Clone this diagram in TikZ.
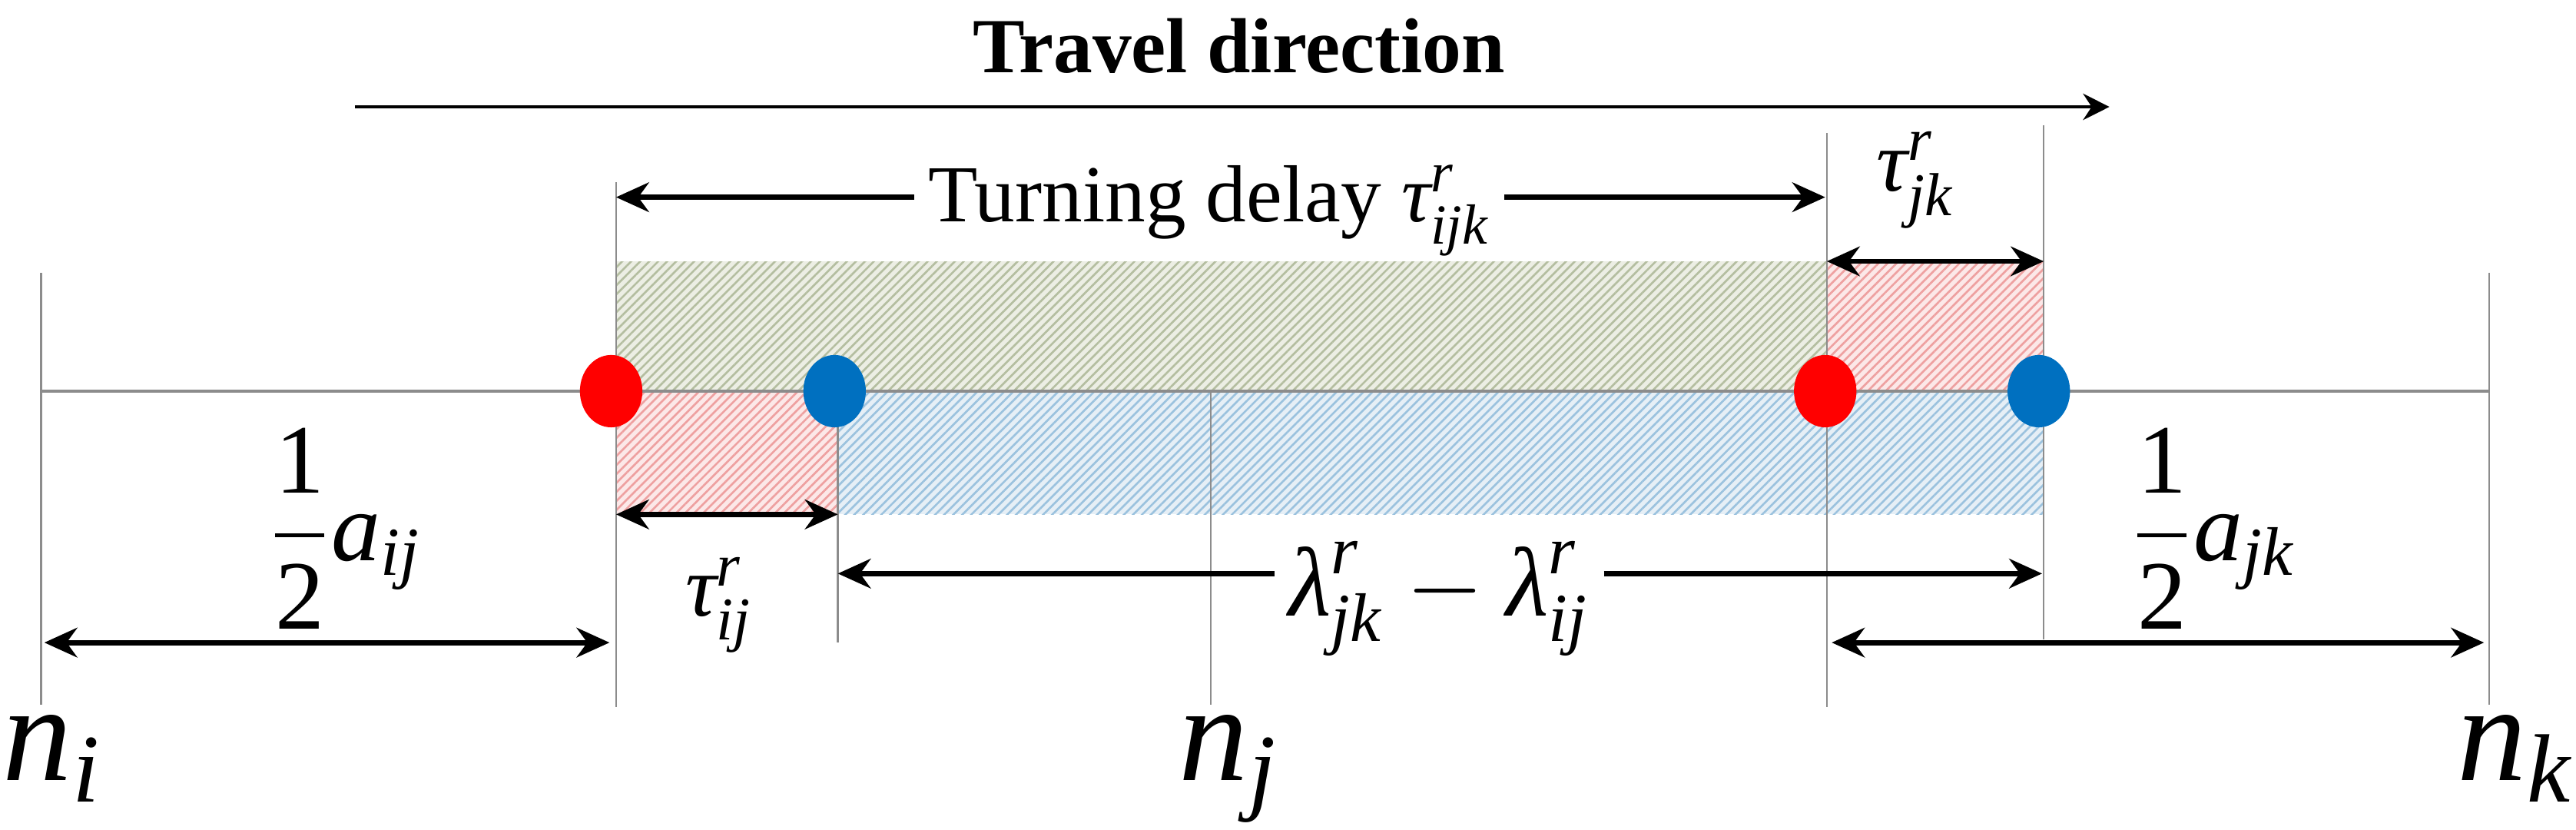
\documentclass[tikz,border=0pt]{standalone}
\usepackage{amsmath}
\usepackage{fontspec}
\setmainfont{Liberation Serif}
\usetikzlibrary{arrows.meta,shapes.geometric,patterns.meta}

\definecolor{dotred}{RGB}{255,0,0}
\definecolor{dotblue}{RGB}{0,112,192}
\definecolor{guidegray}{RGB}{140,140,140}
\definecolor{greenbg}{RGB}{236,238,228}
\definecolor{greenln}{RGB}{180,190,160}
\definecolor{redbg}{RGB}{252,232,232}
\definecolor{redln}{RGB}{238,160,160}
\definecolor{bluebg}{RGB}{230,239,246}
\definecolor{blueln}{RGB}{155,194,222}

\newcommand{\vv}[1]{\textit{#1}}

\tikzset{
  guide/.style={draw=guidegray,line width=0.3pt},
  road/.style={draw=guidegray,line width=0.6pt},
  hatch/.style 2 args={fill=#1,postaction={pattern={Lines[angle=45,distance=1.1pt,line width=0.35pt]},pattern color=#2}},
  spot/.style={ellipse,minimum width=3.8mm,minimum height=4.4mm,inner sep=0pt,fill=#1},
  onearrow/.style={line width=0.9pt,-{Stealth[length=2mm,width=1.8mm]}},
  twoarrow/.style={line width=0.9pt,{Stealth[length=2mm,width=1.8mm]}-{Stealth[length=2mm,width=1.8mm]}},
  lbl/.style={inner xsep=0.8mm,inner ysep=0pt,anchor=base}
}

\begin{document}
\begin{tikzpicture}[x=0.01cm,y=-0.01cm]
\useasboundingbox (0,0) rectangle (1568,505);

% hatched zones
\fill[hatch={greenbg}{greenln}] (375,159) rectangle (1112,238);
\fill[hatch={redbg}{redln}] (375,238) rectangle (510,313);
\fill[hatch={bluebg}{blueln}] (510,238) rectangle (1244,313);
\fill[hatch={redbg}{redln}] (1112,159) rectangle (1244,238);

% road and guide lines
\draw[road] (25,238) -- (1515,238);
\draw[guide] (25,166) -- (25,429);
\draw[guide] (375,111) -- (375,430);
\draw[guide] (510,238) -- (510,391);
\draw[guide] (737,238) -- (737,429);
\draw[guide] (1112,81) -- (1112,430);
\draw[guide] (1244,76) -- (1244,389);
\draw[guide] (1515,166) -- (1515,429);

% vehicles
\node[spot=dotred] (ri) at (372,238) {};
\node[spot=dotblue] (bi) at (508,238) {};
\node[spot=dotred] (rk) at (1111,238) {};
\node[spot=dotblue] (bk) at (1241,238) {};

% travel direction
\node[lbl] (ttl) at (754,44) {\fontsize{13.5}{16}\selectfont\bfseries Travel direction};
\coordinate (tv0) at (216,65);
\coordinate (tv1) at (1284,65);
\draw[line width=0.6pt,-{Stealth[length=1.6mm,width=1.6mm]}] (tv0) -- (tv1);

% turning delay
\coordinate (td0) at (375,120);
\coordinate (td1) at (1111,120);
\node[lbl] (tdl) at (736,135) {\fontsize{14}{16}\selectfont Turning delay $\vv{τ}^{\vv{r}}_{\vv{ijk}}$};
\draw[onearrow] (tdl.west |- td0) -- (td0);
\draw[onearrow] (tdl.east |- td1) -- (td1);

% tau jk
\coordinate (tk0) at (1112,159);
\coordinate (tk1) at (1244,159);
\draw[twoarrow] (tk0) -- (tk1);
\node[lbl] (tkl) at (1166,116) {\fontsize{15}{17}\selectfont $\vv{τ}^{\vv{r}}_{\vv{jk}}$};

% tau ij
\coordinate (ti0) at (375,313);
\coordinate (ti1) at (510,313);
\draw[twoarrow] (ti0) -- (ti1);
\node[lbl] (til) at (438,375) {\fontsize{15}{17}\selectfont $\vv{τ}^{\vv{r}}_{\vv{ij}}$};

% lambda
\coordinate (la0) at (510,349);
\coordinate (la1) at (1243,349);
\node[lbl] (lal) at (876,375) {\fontsize{17}{19}\selectfont $\vv{λ}^{\vv{r}}_{\vv{jk}}-\vv{λ}^{\vv{r}}_{\vv{ij}}$};
\draw[onearrow] (lal.west |- la0) -- (la0);
\draw[onearrow] (lal.east |- la1) -- (la1);

% half lengths
\coordinate (hi0) at (27,391);
\coordinate (hi1) at (371,391);
\draw[twoarrow] (hi0) -- (hi1);
\node[lbl] (hil) at (210,341) {\fontsize{17}{19}\selectfont $\dfrac{\textrm{1}}{\textrm{2}}\vv{a}_{\vv{ij}}$};
\coordinate (hk0) at (1115,391);
\coordinate (hk1) at (1512,391);
\draw[twoarrow] (hk0) -- (hk1);
\node[lbl] (hkl) at (1347,341) {\fontsize{17}{19}\selectfont $\dfrac{\textrm{1}}{\textrm{2}}\vv{a}_{\vv{jk}}$};

% nodes of the road
\node[lbl] (lni) at (32,475) {\fontsize{24}{28}\selectfont $\vv{n}_{\vv{i}}$};
\node[lbl] (lnj) at (748,475) {\fontsize{24}{28}\selectfont $\vv{n}_{\vv{j}}$};
\node[lbl] (lnk) at (1531,475) {\fontsize{24}{28}\selectfont $\vv{n}_{\vv{k}}$};
\end{tikzpicture}
\end{document}
